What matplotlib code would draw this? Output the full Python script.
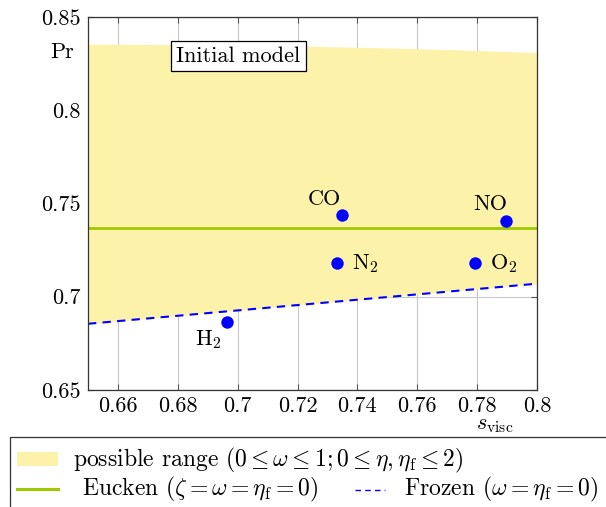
import matplotlib
matplotlib.use("Agg")
import matplotlib.pyplot as plt
from matplotlib.patches import Rectangle
from matplotlib.lines import Line2D

plt.rcParams['font.family'] = ['cmr10', 'DejaVu Serif']
plt.rcParams['mathtext.fontset'] = 'cm'
plt.rcParams['axes.formatter.use_mathtext'] = True
plt.rcParams['font.size'] = 16

# data
gases = ["CO", "N$_2$", "H$_2$", "NO", "O$_2$"]
s_visc = [0.7348, 0.7333, 0.6963, 0.7897, 0.7793]
prandtl = [0.7438, 0.7179, 0.6866, 0.7408, 0.7179]
label_offsets = [(-17, 16), (15, 0), (-18, -18), (-16, 16), (15, 0)]
label_ha = ["center", "left", "center", "center", "left"]

range_x = [0.65, 0.70, 0.72, 0.76, 0.80]
range_upper = [0.8355, 0.835, 0.8345, 0.833, 0.831]
frozen_x = [0.65, 0.80]
frozen_pr = [0.6855, 0.707]
eucken_pr = 0.737

xticks = [0.66, 0.68, 0.70, 0.72, 0.74, 0.76, 0.78, 0.80]
xticklabels = ["0.66", "0.68", "0.7", "0.72", "0.74", "0.76", "0.78", "0.8"]
yticks = [0.65, 0.70, 0.75, 0.80, 0.85]
yticklabels = ["0.65", "0.7", "0.75", "0.8", "0.85"]

yellow = '#fcf2aa'
green = '#9ec800'
blue = '#0000ff'

fig = plt.figure(figsize=(6.06, 5.07), dpi=100)
ax = fig.add_axes([0.1452, 0.2308, 0.7409, 0.7357])

# possible range, bounded below by the frozen line
lower = [frozen_pr[0] + (x - frozen_x[0]) * (frozen_pr[1] - frozen_pr[0]) / (frozen_x[1] - frozen_x[0])
         for x in range_x]
ax.fill_between(range_x, lower, range_upper, color=yellow, lw=0, zorder=1)
ax.axhline(eucken_pr, color=green, lw=2, zorder=3)
ax.plot(frozen_x, frozen_pr, color=blue, lw=1.5, ls=(0, (4, 3)), zorder=3)
ax.scatter(s_visc, prandtl, s=80, color=blue, zorder=4, linewidths=0)

for name, x, y, off, ha in zip(gases, s_visc, prandtl, label_offsets, label_ha):
    ax.annotate(name, (x, y), xytext=off, textcoords='offset pixels',
                ha=ha, va='center', fontsize=16)

ax.set_xlim(0.65, 0.80)
ax.set_ylim(0.65, 0.85)
ax.set_xticks(xticks)
ax.set_xticklabels(xticklabels)
ax.set_yticks(yticks)
ax.set_yticklabels(yticklabels)
ax.tick_params(direction='in', top=True, right=True, length=4, color='#555555',
               labelsize=16, pad=5)
ax.grid(True, color='#c8c8c8', lw=0.8, zorder=0)
ax.set_axisbelow(True)
for sp in ax.spines.values():
    sp.set_color('#333333')
    sp.set_linewidth(0.9)
    sp.set_zorder(5)

ax.text(-0.058, 0.906, "Pr", transform=ax.transAxes, ha='center', va='center', fontsize=16)
ax.text(0.906, -0.068, r"$s_{\mathrm{visc}}$", transform=ax.transAxes, ha='center', va='top',
        fontsize=16)
ax.text(0.335, 0.895, "Initial model", transform=ax.transAxes, ha='center', va='center',
        fontsize=16, zorder=6,
        bbox=dict(boxstyle='square,pad=0.25', fc='white', ec='black', lw=0.9))

# legend below the axes, drawn in figure pixels
W, H = 606, 507


def fx(px):
    return px / W


def fy(py):
    return 1 - py / H


fig.add_artist(Rectangle((fx(10), fy(510)), fx(600), 73 / H, transform=fig.transFigure,
                         fc='white', ec='#333333', lw=0.9))
fig.add_artist(Rectangle((fx(17), fy(466)), fx(41), 14 / H, transform=fig.transFigure,
                         fc=yellow, ec='none'))
fig.text(fx(73), fy(460), r"possible range $(0 \leq \omega \leq 1; 0 \leq \eta, \eta_{\mathrm{f}} \leq 2)$",
         ha='left', va='center', fontsize=17)
fig.add_artist(Line2D([fx(17), fx(58)], [fy(489), fy(489)], transform=fig.transFigure,
                      color=green, lw=2.2))
fig.text(fx(82), fy(489), r"Eucken $(\zeta = \omega = \eta_{\mathrm{f}} = 0)$",
         ha='left', va='center', fontsize=17)
fig.add_artist(Line2D([fx(355), fx(385)], [fy(490), fy(490)], transform=fig.transFigure,
                      color=blue, lw=1, ls=(0, (4, 3))))
fig.text(fx(404), fy(489), r"Frozen $(\omega = \eta_{\mathrm{f}} = 0)$",
         ha='left', va='center', fontsize=17)

fig.savefig("out.png", dpi=100)
